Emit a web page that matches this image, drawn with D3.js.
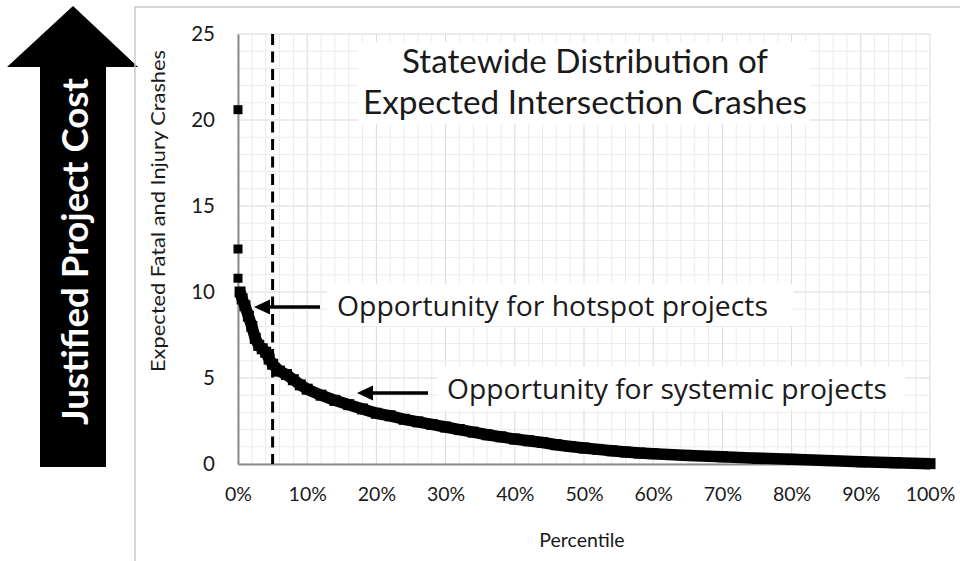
<!DOCTYPE html>
<html>
<head>
<meta charset="utf-8">
<script src="https://cdn.jsdelivr.net/npm/d3@7"></script>
<style>
  html, body { margin: 0; padding: 0; background: #fff; }
  svg { display: block; }
</style>
</head>
<body>
<svg id="chart" width="960" height="561"></svg>
<script>
// ---- data ----
const percentiles = [0.3, 0.6, 1.0, 1.5, 2.0, 2.5, 3.0, 3.5, 4.0, 4.5, 5.0, 6.0, 7.0, 8.0, 9.0,
  10, 12, 14, 16, 18, 20, 22, 24, 26, 28, 30, 32, 34, 36, 38, 40, 42, 44, 46, 48, 50,
  52, 54, 56, 58, 60, 65, 70, 75, 80, 85, 90, 95, 100];
const crashes = [10.0, 9.6, 9.2, 8.6, 8.0, 7.3, 6.9, 6.7, 6.5, 6.1, 5.8, 5.4, 5.2, 4.9, 4.6,
  4.35, 4.0, 3.7, 3.45, 3.2, 2.95, 2.8, 2.6, 2.45, 2.3, 2.15, 2.0, 1.85, 1.7, 1.58, 1.45, 1.35, 1.25, 1.12, 1.02, 0.93,
  0.85, 0.77, 0.7, 0.64, 0.6, 0.5, 0.42, 0.34, 0.27, 0.2, 0.13, 0.07, 0.02];
const outlierPercentiles = [0, 0, 0];
const outlierCrashes = [20.6, 12.5, 10.8];
const yTicks = [0, 5, 10, 15, 20, 25];
const xTicks = [0, 10, 20, 30, 40, 50, 60, 70, 80, 90, 100];
const hotspotCutoff = 5;
const titleLines = ["Statewide Distribution of", "Expected Intersection Crashes"];
const xTitle = "Percentile";
const yTitle = "Expected Fatal and Injury Crashes";
const sideLabel = "Justified Project Cost";
const noteHotspot = "Opportunity for hotspot projects";
const noteSystemic = "Opportunity for systemic projects";

// ---- drawing ----
const svg = d3.select("#chart");
const gill = "Lato, 'DejaVu Sans', sans-serif";
const segoe = "'Open Sans', 'Noto Sans', sans-serif";

const x = d3.scaleLinear().domain([0, 100]).range([238, 930]);
const y = d3.scaleLinear().domain([0, 25]).range([464, 34]);

// big arrow on the left
svg.append("path")
  .attr("d", "M73,6 L138,67 L106,67 L106,467 L40,467 L40,67 L7,67 Z")
  .attr("fill", "#000");
svg.append("text")
  .attr("transform", "translate(88,425) rotate(-90)")
  .attr("font-family", gill).attr("font-weight", 700).attr("font-size", 37)
  .attr("fill", "#fff")
  .attr("textLength", 347).attr("lengthAdjust", "spacingAndGlyphs")
  .text(sideLabel);

// chart frame
svg.append("rect")
  .attr("x", 135).attr("y", 7).attr("width", 840).attr("height", 600)
  .attr("fill", "none").attr("stroke", "#c9c9c9").attr("stroke-width", 1.5);

// grid
const grid = svg.append("g");
grid.selectAll(".vmin").data(d3.range(0, 101, 2)).join("line")
  .attr("x1", d => x(d)).attr("x2", d => x(d)).attr("y1", y(25)).attr("y2", y(0))
  .attr("stroke", d => d % 10 === 0 ? "#d9d9d9" : "#ebebeb").attr("stroke-width", 1);
grid.selectAll(".hmin").data(d3.range(0, 26, 1)).join("line")
  .attr("y1", d => y(d)).attr("y2", d => y(d)).attr("x1", x(0)).attr("x2", x(100))
  .attr("stroke", d => d % 5 === 0 ? "#d9d9d9" : "#ebebeb").attr("stroke-width", 1);

// white boxes behind texts
svg.append("rect").attr("x", 358).attr("y", 42).attr("width", 452).attr("height", 82).attr("fill", "#fff");
svg.append("rect").attr("x", 327).attr("y", 284).attr("width", 466).attr("height", 42).attr("fill", "#fff");
svg.append("rect").attr("x", 437).attr("y", 366).attr("width", 468).attr("height", 44).attr("fill", "#fff");

// axes
const yAxis = svg.append("g").attr("transform", `translate(${x(0)},0)`)
  .call(d3.axisLeft(y).tickValues(yTicks).tickSize(0).tickSizeOuter(0).tickPadding(23).tickFormat(d3.format("d")));
const xAxis = svg.append("g").attr("transform", `translate(0,${y(0)})`)
  .call(d3.axisBottom(x).tickValues(xTicks).tickSize(0).tickSizeOuter(0).tickPadding(23).tickFormat(d => d + "%"));
[yAxis, xAxis].forEach(g => {
  g.select(".domain").attr("stroke", "#8c8c8c").attr("stroke-width", 2);
  g.selectAll("text").attr("font-family", gill).attr("fill", "#1a1a1a");
});
yAxis.selectAll("text").attr("font-size", 20.5);
xAxis.selectAll("text").attr("font-size", 19.5);

// dashed cutoff line
svg.append("line")
  .attr("x1", x(hotspotCutoff)).attr("x2", x(hotspotCutoff))
  .attr("y1", y(25)).attr("y2", y(0))
  .attr("stroke", "#000").attr("stroke-width", 3).attr("stroke-dasharray", "11,6.5");

// data curve
const pts = percentiles.map((p, i) => [p, crashes[i]]);
svg.append("path")
  .datum(pts)
  .attr("d", d3.line().x(d => x(d[0])).y(d => y(d[1])))
  .attr("fill", "none").attr("stroke", "#000").attr("stroke-width", 11.5)
  .attr("stroke-linejoin", "round");
const sq = 11;
svg.selectAll(".pt").data(pts).join("rect")
  .attr("x", d => x(d[0]) - sq / 2).attr("y", d => y(d[1]) - sq / 2)
  .attr("width", sq).attr("height", sq).attr("fill", "#000");
const outs = outlierPercentiles.map((p, i) => [p, outlierCrashes[i]]);
svg.selectAll(".out").data(outs).join("rect")
  .attr("x", d => x(d[0]) - 4.5).attr("y", d => y(d[1]) - 4.5)
  .attr("width", 9).attr("height", 9).attr("fill", "#000");

// titles
svg.append("text").attr("x", 582).attr("y", 547).attr("text-anchor", "middle")
  .attr("font-family", gill).attr("font-size", 19.5).attr("fill", "#1a1a1a").text(xTitle);
svg.append("text").attr("transform", "translate(165,211) rotate(-90)").attr("text-anchor", "middle")
  .attr("font-family", gill).attr("font-size", 20).attr("fill", "#1a1a1a")
  .attr("textLength", 322).attr("lengthAdjust", "spacingAndGlyphs").text(yTitle);
const titleWidths = [366, 444];
svg.selectAll(".title").data(titleLines).join("text")
  .attr("x", 585).attr("y", (d, i) => 73 + i * 41).attr("text-anchor", "middle")
  .attr("font-family", gill).attr("font-size", 32).attr("fill", "#1a1a1a")
  .attr("textLength", (d, i) => titleWidths[i]).attr("lengthAdjust", "spacingAndGlyphs")
  .text(d => d);

// annotations
function arrow(x1, x2, yy) {
  svg.append("line").attr("x1", x1).attr("x2", x2 + 10).attr("y1", yy).attr("y2", yy)
    .attr("stroke", "#000").attr("stroke-width", 3.5);
  svg.append("path").attr("d", `M${x2},${yy} L${x2 + 16},${yy - 7.5} L${x2 + 16},${yy + 7.5} Z`).attr("fill", "#000");
}
arrow(320, 254, 307);
arrow(428, 357, 393);
svg.append("text").attr("x", 337).attr("y", 316)
  .attr("font-family", segoe).attr("font-size", 28).attr("fill", "#1a1a1a")
  .attr("textLength", 431).attr("lengthAdjust", "spacingAndGlyphs").text(noteHotspot);
svg.append("text").attr("x", 447).attr("y", 399)
  .attr("font-family", segoe).attr("font-size", 28).attr("fill", "#1a1a1a")
  .attr("textLength", 440).attr("lengthAdjust", "spacingAndGlyphs").text(noteSystemic);
</script>
</body>
</html>
